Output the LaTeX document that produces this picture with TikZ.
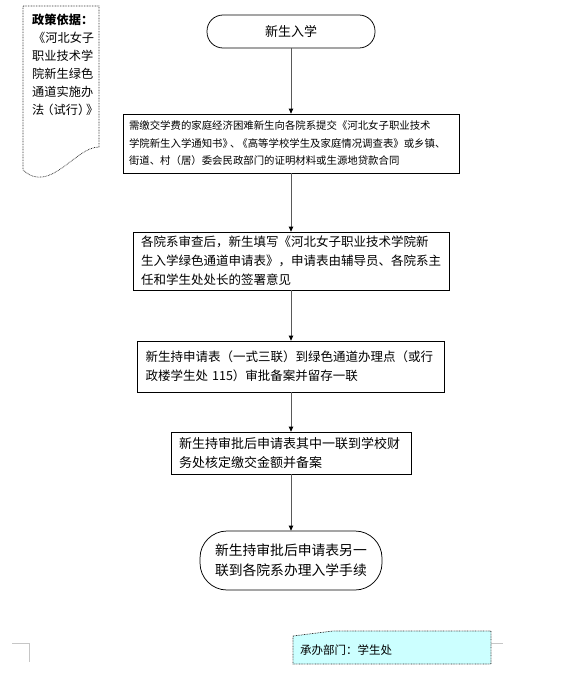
\documentclass[tikz,border=0pt]{standalone}
\usepackage{fontspec}
\setmainfont{Noto Sans CJK SC}
\usepackage{tikz}
\usetikzlibrary{arrows}
\usetikzlibrary{arrows.meta}

\tikzset{
  stepbox/.style={draw, line width=0.75pt, align=left, inner xsep=8pt, inner ysep=0pt},
  termbox/.style={stepbox, inner xsep=0pt},
  flow/.style={draw=gray!70!black, line width=0.9pt, -{Triangle[length=5pt,width=4.5pt,color=black]}},
  notebox/.style={draw=black!80, line width=0.7pt, dash pattern=on 0.8pt off 0.8pt},
}

\begin{document}
\begin{tikzpicture}[x=1pt,y=-1pt]
    \useasboundingbox (0,0) rectangle (587,680);
    % policy note
    \draw[notebox] (99,147) -- (99,6) -- (23,6) -- (23,170) .. controls (50,195) and (75,147) .. (99,147);
    \node[anchor=north west, inner sep=0pt, align=left, font=\fontsize{12.2}{18}\selectfont] (policy) at (32,14)
      {{\bfseries 政策依据：}\\\kern1pt《河北女子\\职业技术学\\院新生绿色\\通道实施办\\\mbox{法\kern-3pt（试行）\kern-4pt》}};
    % flow
    \node[termbox, rounded corners=16pt, minimum width=168pt, minimum height=33pt, font=\fontsize{13}{19}\selectfont] (start) at (291,31.5) {新生入学};
    \node[stepbox, inner xsep=6pt, text width=324pt, minimum height=59pt, font=\fontsize{10.4}{17.5}\selectfont] (apply) at (291,143.5)
      {\mbox{需缴交学费的家庭经济困难新生向各院系提交《河北女子职业技术}\\\mbox{学院新生入学通知书》\kern-3pt、\kern-3pt《高等学校学生及家庭情况调查表》或乡镇、}\\\mbox{街道、村（居）委会民政部门的证明材料或生源地贷款合同}};
    \node[stepbox, text width=300pt, minimum height=58pt, font=\fontsize{12.5}{19}\selectfont] (form) at (291,261)
      {\mbox{各院系审查后，新生填写《河北女子职业技术学院新}\\\mbox{生入学绿色通道申请表》，申请表由辅导员、各院系主}\\任和学生处处长的签署意见};
    \node[stepbox, text width=291pt, minimum height=51pt, font=\fontsize{12.5}{19}\selectfont] (office) at (291,366.5)
      {\mbox{新生持申请表（一式三联）到绿色通道办理点（或行}\\政楼学生处 115）审批备案并留存一联};
    \node[stepbox, text width=224pt, minimum height=42pt, font=\fontsize{13}{19}\selectfont] (finance) at (291,453)
      {\mbox{新生持审批后申请表其中一联到学校财}\\务处核定缴交金额并备案};
    \node[termbox, rounded corners=27pt, text width=152pt, minimum width=182pt, minimum height=59pt, font=\fontsize{13.8}{20}\selectfont] (finish) at (291,560.5)
      {\mbox{新生持审批后申请表另一}\\联到各院系办理入学手续};
    \draw[flow] (start) -- (apply);
    \draw[flow] (apply) -- (form);
    \draw[flow] (form) -- (office);
    \draw[flow] (office) -- (finance);
    \draw[flow] (finance) -- (finish);
    % page marks and office note
    \draw[gray!45] (12,643) -- (29,643) -- (29,662);
    \draw[gray!45] (491,643) -- (503,643);
    \filldraw[notebox, fill={rgb,255:red,204;green,255;blue,255}] (293,636) -- (333,631) -- (491,631) -- (491,664) -- (293,664) -- cycle;
    \node[anchor=west, inner sep=0pt, font=\fontsize{11.5}{14}\selectfont] (dept) at (300,650) {承办部门：学生处};
  \end{tikzpicture}
\end{document}
